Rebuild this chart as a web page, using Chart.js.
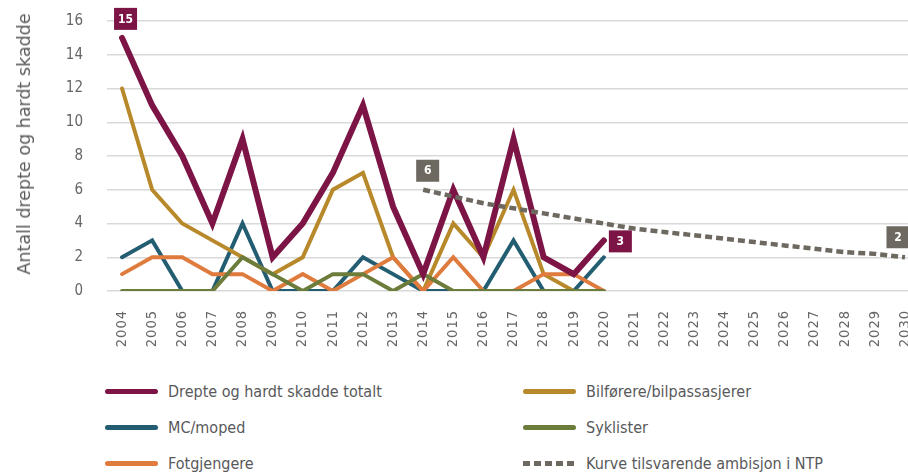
<!DOCTYPE html>
<html lang="no">
<head>
<meta charset="utf-8">
<title>Drepte og hardt skadde</title>
<script src="https://cdn.jsdelivr.net/npm/chart.js@4.4.1/dist/chart.umd.min.js"></script>
<style>
    html, body { margin: 0; padding: 0; background: #fff; }
    body { width: 908px; height: 474px; overflow: hidden; position: relative; }
    #skadeChart { position: absolute; left: 0; top: 0; }
    #ytittel {
        position: absolute; left: 24px; top: 144px;
        transform: translate(-50%, -50%) rotate(-90deg);
        white-space: nowrap;
        font-family: 'DejaVu Sans', sans-serif; font-size: 17.5px; color: #58595b;
    }
    #legende {
        position: absolute; left: 105px; top: 373px;
        display: grid; grid-template-columns: 418px auto; grid-auto-rows: 36px;
        font-family: 'DejaVu Sans Condensed', 'DejaVu Sans', sans-serif;
        font-size: 16px; color: #58595b;
    }
    .legende-rad { display: flex; align-items: center; }
    .legende-strek { width: 53px; height: 5px; border-radius: 3px; margin-right: 10px; }
    .legende-strek.stiplet {
        border-radius: 0;
        background: repeating-linear-gradient(90deg, #6d6961 0 7px, transparent 7px 11px) !important;
    }
</style>
</head>
<body>
<canvas id="skadeChart" width="908" height="360"></canvas>
<div id="ytittel">Antall drepte og hardt skadde</div>
<div id="legende"></div>
<script>
// År på x-aksen
const aar = [2004, 2005, 2006, 2007, 2008, 2009, 2010, 2011, 2012, 2013, 2014, 2015, 2016, 2017,
    2018, 2019, 2020, 2021, 2022, 2023, 2024, 2025, 2026, 2027, 2028, 2029, 2030];
const aarRegistrert = [2004, 2005, 2006, 2007, 2008, 2009, 2010, 2011, 2012, 2013, 2014, 2015, 2016,
    2017, 2018, 2019, 2020];
const aarNtp = [2014, 2015, 2016, 2017, 2018, 2019, 2020, 2021, 2022, 2023, 2024, 2025, 2026, 2027,
    2028, 2029, 2030];

// Antall drepte og hardt skadde per trafikantgruppe
const totalt       = [15, 11, 8, 4, 9, 2, 4, 7, 11, 5, 1, 6, 2, 9, 2, 1, 3];
const bilforere    = [12, 6, 4, 3, 2, 1, 2, 6, 7, 2, 0, 4, 2, 6, 1, 0, 0];
const mcMoped      = [2, 3, 0, 0, 4, 0, 0, 0, 2, 1, 0, 0, 0, 3, 0, 0, 2];
const syklister    = [0, 0, 0, 0, 2, 1, 0, 1, 1, 0, 1, 0, 0, 0, 0, 0, 0];
const fotgjengere  = [1, 2, 2, 1, 1, 0, 1, 0, 1, 2, 0, 2, 0, 0, 1, 1, 0];
// Kurve for ambisjonen i NTP
const ntpKurve     = [6, 5.6, 5.2, 4.9, 4.6, 4.3, 4.0, 3.7, 3.5, 3.3, 3.1, 2.9, 2.7, 2.5, 2.3, 2.2, 2.0];

const yTicks = [0, 2, 4, 6, 8, 10, 12, 14, 16];

const farger = {
    totalt: '#7d1446',
    bil: '#b8892b',
    mc: '#235d72',
    sykkel: '#6b7c3b',
    fot: '#e07b3e',
    ntp: '#6d6961'
};

function punkter(xer, verdier) {
    return verdier.map((v, i) => ({ x: xer[i], y: v }));
}

// Rekkefølgen styrer hva som tegnes øverst (første datasett øverst)
const datasett = [
    { label: 'Kurve tilsvarende ambisjon i NTP', data: punkter(aarNtp, ntpKurve), borderColor: farger.ntp,
      borderWidth: 4.5, borderDash: [7, 4], borderCapStyle: 'butt' },
    { label: 'Drepte og hardt skadde totalt', data: punkter(aarRegistrert, totalt), borderColor: farger.totalt,
      borderWidth: 6 },
    { label: 'Syklister', data: punkter(aarRegistrert, syklister), borderColor: farger.sykkel, borderWidth: 4 },
    { label: 'Fotgjengere', data: punkter(aarRegistrert, fotgjengere), borderColor: farger.fot, borderWidth: 4 },
    { label: 'Bilførere/bilpassasjerer', data: punkter(aarRegistrert, bilforere), borderColor: farger.bil, borderWidth: 4 },
    { label: 'MC/moped', data: punkter(aarRegistrert, mcMoped), borderColor: farger.mc, borderWidth: 4 }
];
datasett.forEach(d => {
    d.pointRadius = 0;
    d.tension = 0;
    d.fill = false;
    if (!d.borderCapStyle) d.borderCapStyle = 'round';
});

// Verdibokser ved utvalgte punkter
const etiketter = [
    { serie: 1, indeks: 0, dx: 3.5, dy: -19, farge: farger.totalt },
    { serie: 0, indeks: 0, dx: 4.5, dy: -19, farge: farger.ntp },
    { serie: 1, indeks: 16, dx: 16.5, dy: 1, farge: farger.totalt },
    { serie: 0, indeks: 16, dx: -7, dy: -20, farge: farger.ntp }
];

const etikettPlugin = {
    id: 'verdibokser',
    beforeDraw(chart) {
        // årstallene tegnes med litt sperring
        const sx = chart.scales.x;
        if (sx && !sx._sperret) {
            const tegn = sx.drawLabels.bind(sx);
            sx.drawLabels = function (area) {
                this.ctx.save();
                this.ctx.letterSpacing = '1px';
                tegn(area);
                this.ctx.restore();
            };
            sx._sperret = true;
        }
    },
    afterDatasetsDraw(chart) {
        const ctx = chart.ctx;
        const xs = chart.scales.x, ys = chart.scales.y;
        ctx.save();
        etiketter.forEach(e => {
            const p = chart.data.datasets[e.serie].data[e.indeks];
            const cx = xs.getPixelForValue(p.x) + e.dx;
            const cy = ys.getPixelForValue(p.y) + e.dy;
            ctx.fillStyle = e.farge;
            ctx.fillRect(cx - 11.5, cy - 11, 23, 22);
            ctx.fillStyle = '#fff';
            ctx.font = "bold 12px 'DejaVu Sans Condensed', 'DejaVu Sans', sans-serif";
            ctx.textAlign = 'center';
            ctx.textBaseline = 'middle';
            ctx.fillText(String(p.y), cx, cy + 0.5);
        });
        ctx.restore();
    }
};

const fontAkse = "'DejaVu Sans Condensed', 'DejaVu Sans', sans-serif";

new Chart(document.getElementById('skadeChart'), {
    type: 'line',
    data: { datasets: datasett },
    options: {
        responsive: false,
        animation: false,
        layout: { padding: { top: 21, right: 0, bottom: 0, left: 0 } },
        plugins: {
            legend: { display: false },
            tooltip: { enabled: false }
        },
        scales: {
            x: {
                type: 'linear',
                min: 2003.5,
                max: 2030.1,
                grid: { display: false, drawTicks: false },
                border: { display: false },
                afterBuildTicks: s => { s.ticks = aar.map(v => ({ value: v })); },
                afterFit: s => { s.height = 69; s.paddingLeft = 0; s.paddingRight = 0; },
                ticks: {
                    autoSkip: false,
                    minRotation: 90,
                    maxRotation: 90,
                    padding: 19,
                    color: '#666',
                    font: { family: fontAkse, size: 14.5 },
                    callback: v => String(v)
                }
            },
            y: {
                min: 0,
                max: 16,
                afterBuildTicks: s => { s.ticks = yTicks.map(v => ({ value: v })); },
                afterFit: s => { s.width = 107; s.paddingTop = 0; s.paddingBottom = 0; },
                grid: { color: '#d9d9d9', lineWidth: 1.5, drawTicks: false },
                border: { display: false },
                ticks: {
                    padding: 24,
                    color: '#666',
                    font: { family: fontAkse, size: 15 }
                }
            }
        }
    },
    plugins: [etikettPlugin]
});

// Forklaring i to kolonner
const legendeRekkefolge = [
    { navn: 'Drepte og hardt skadde totalt', farge: farger.totalt },
    { navn: 'Bilførere/bilpassasjerer', farge: farger.bil },
    { navn: 'MC/moped', farge: farger.mc },
    { navn: 'Syklister', farge: farger.sykkel },
    { navn: 'Fotgjengere', farge: farger.fot },
    { navn: 'Kurve tilsvarende ambisjon i NTP', farge: farger.ntp, stiplet: true }
];
const legende = document.getElementById('legende');
legendeRekkefolge.forEach(l => {
    const rad = document.createElement('div');
    rad.className = 'legende-rad';
    const strek = document.createElement('span');
    strek.className = 'legende-strek' + (l.stiplet ? ' stiplet' : '');
    strek.style.background = l.farge;
    const tekst = document.createElement('span');
    tekst.textContent = l.navn;
    rad.appendChild(strek);
    rad.appendChild(tekst);
    legende.appendChild(rad);
});
</script>
</body>
</html>
